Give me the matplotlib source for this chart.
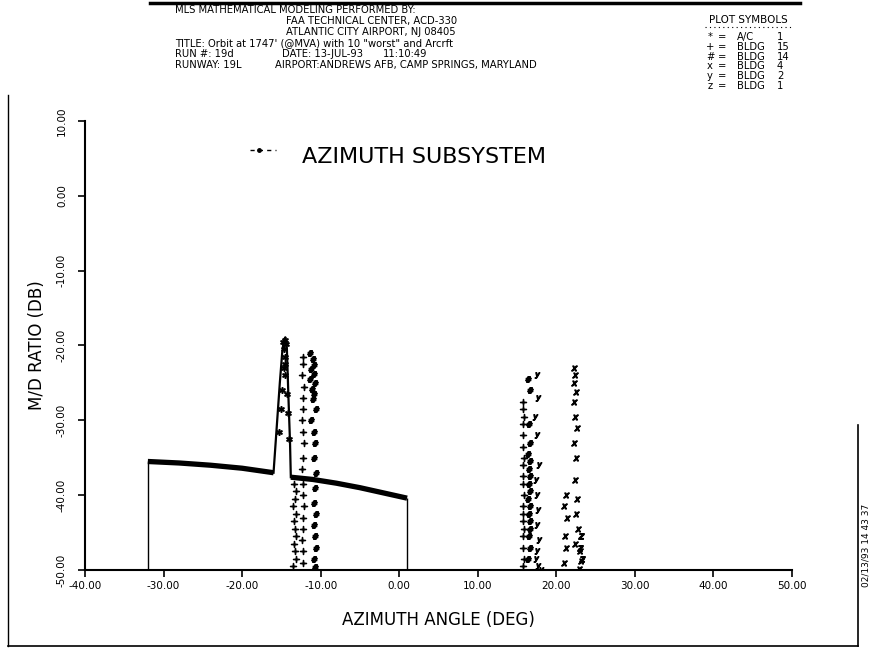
import numpy as np
import matplotlib
matplotlib.use('Agg')
import matplotlib.pyplot as plt
from matplotlib.lines import Line2D
from matplotlib.ticker import FormatStrFormatter

plt.rcParams['font.family'] = 'DejaVu Sans'
plt.rcParams['axes.unicode_minus'] = False

# A/C 1 track (thick line)
ac_left_x = [-32.0, -28.0, -24.0, -20.0, -16.0]
ac_left_y = [-35.5, -35.7, -36.0, -36.4, -37.0]
ac_spike_x = [-16.0, -15.6, -15.2, -14.9, -14.7, -14.5, -14.3, -14.1, -13.9, -13.8]
ac_spike_y = [-37.0, -31.0, -25.0, -21.0, -19.3, -18.9, -20.5, -27.0, -33.0, -37.6]
ac_right_x = [-13.8, -11.0, -8.0, -5.0, -2.0, 1.0]
ac_right_y = [-37.6, -37.9, -38.4, -39.0, -39.7, -40.4]
ac_edge_x = [-32.0, 1.0]
ac_edge_top = [-35.5, -40.4]
ac_peak_x = [-14.8, -14.7, -14.6, -14.5, -14.4, -14.6, -14.5, -14.7, -14.9, -15.1, -14.3, -14.2, -15.3, -14.0]
ac_peak_y = [-19.5, -20.5, -19.2, -21.5, -19.8, -22.5, -24.0, -23.0, -26.0, -28.5, -26.5, -29.0, -31.5, -32.5]

# BLDG 15 (+)
b15_x = [-12.3, -12.2, -12.4, -12.1, -12.3, -12.2, -12.4, -12.3, -12.1, -12.2, -12.4, -12.3,
         -12.2, -12.1, -12.3, -12.2, -12.4, -12.3, -12.2,
         -13.4, -13.2, -13.3, -13.5, -13.2, -13.4, -13.3, -13.1, -13.4, -13.3, -13.2, -13.5,
         15.8, 15.7, 15.9, 15.8, 15.7, 15.8, 15.9, 15.8, 15.7, 15.8, 15.9, 15.8, 15.7, 15.8,
         15.9, 15.8, 15.7, 15.9, 15.8]
b15_y = [-21.5, -22.5, -24.0, -25.5, -27.0, -28.5, -30.0, -31.5, -33.0, -35.0, -36.5, -38.5,
         -40.0, -41.5, -43.0, -44.5, -46.0, -47.5, -49.0,
         -38.5, -39.5, -40.5, -41.5, -42.5, -43.5, -44.5, -45.5, -46.5, -47.5, -48.5, -49.5,
         -27.5, -28.5, -29.5, -30.5, -32.0, -33.5, -35.0, -36.0, -37.5, -38.5, -40.0, -41.5,
         -42.5, -43.5, -44.5, -45.5, -47.0, -48.5, -49.5]

# BLDG 14 (#)
b14_x = [-11.4, -11.0, -10.8, -11.2, -10.9, -11.3, -10.7, -11.1, -10.8, -11.0, -10.6, -11.2,
         -10.9, -10.7, -10.8, -10.6, -10.7, -10.9, -10.6, -10.8, -10.7, -10.6, -10.8, -10.7,
         16.4, 16.7, 16.5, 16.6, 16.4, 16.7, 16.5, 16.6, 16.5, 16.7, 16.4, 16.6, 16.5, 16.7,
         16.6, 16.5, 16.7, 16.4]
b14_y = [-21.0, -21.8, -22.6, -23.2, -23.8, -24.5, -25.0, -25.8, -26.5, -27.2, -28.5, -30.0,
         -31.5, -33.0, -35.0, -37.0, -39.0, -41.0, -42.5, -44.0, -45.5, -47.0, -48.5, -49.6,
         -24.5, -26.0, -30.5, -33.0, -34.5, -35.5, -36.5, -37.5, -38.5, -39.5, -40.5, -41.5,
         -42.5, -43.5, -44.5, -45.5, -47.0, -48.5]

# BLDG 4 (x)
b4_x = [22.3, 22.4, 22.2, 22.5, 22.3, 22.4, 22.6, 22.3, 22.5, 22.4, 22.6, 22.5, 22.7, 22.4,
        21.2, 21.0, 21.3, 21.1, 21.2, 21.0, 23.0, 23.1, 22.9]
b4_y = [-23.0, -24.0, -25.0, -26.2, -27.5, -29.5, -31.0, -33.0, -35.0, -38.0, -40.5, -42.5,
        -44.5, -46.5, -40.0, -41.5, -43.0, -45.5, -47.0, -49.0, -47.5, -48.8, -49.8]

# BLDG 2 (y)
b2_x = [17.5, 17.7, 17.3, 17.6, 17.8, 17.4, 17.6, 17.7, 17.5, 17.8, 17.6, 17.4, 17.7, 18.0]
b2_y = [-24.0, -27.0, -29.5, -32.0, -36.0, -38.0, -40.0, -42.0, -44.0, -46.0, -47.5, -48.5,
        -49.5, -50.0]

# BLDG 1 (z)
b1_x = [23.2, 23.0, 23.3]
b1_y = [-45.5, -47.0, -48.5]

x_ticks = [-40, -30, -20, -10, 0, 10, 20, 30, 40, 50]
y_ticks = [-50, -40, -30, -20, -10, 0, 10]

# header text pieces: (x pixel, line index, text)
header_parts = [
    (175, 0, "MLS MATHEMATICAL MODELING PERFORMED BY:"),
    (286, 1, "FAA TECHNICAL CENTER, ACD-330"),
    (286, 2, "ATLANTIC CITY AIRPORT, NJ 08405"),
    (175, 3, "TITLE: Orbit at 1747' (@MVA) with 10 \"worst\" and Arcrft"),
    (175, 4, "RUN #: 19d"),
    (282, 4, "DATE: 13-JUL-93"),
    (383, 4, "11:10:49"),
    (175, 5, "RUNWAY: 19L"),
    (275, 5, "AIRPORT:ANDREWS AFB, CAMP SPRINGS, MARYLAND"),
]
legend_syms = ["*", "+", "#", "x", "y", "z"]
legend_names = ["A/C", "BLDG", "BLDG", "BLDG", "BLDG", "BLDG"]
legend_nums = ["1", "15", "14", "4", "2", "1"]

fig = plt.figure(figsize=(8.76, 6.52), dpi=100)
ax = fig.add_axes([85 / 876, 1 - 570 / 652, (792 - 85) / 876, (570 - 121) / 652])

# A/C track
ax.plot(ac_left_x, ac_left_y, color='black', lw=3.8, solid_capstyle='butt')
ax.plot(ac_right_x, ac_right_y, color='black', lw=3.8, solid_capstyle='butt')
ax.plot(ac_spike_x, ac_spike_y, color='black', lw=1.6)
ax.vlines(ac_edge_x, -50, ac_edge_top, color='black', lw=1.0)
ax.plot(ac_peak_x, ac_peak_y, ls='none', marker='$*$', ms=4, color='black')

ms = 4
ax.plot(b15_x, b15_y, ls='none', marker='$+$', ms=ms, color='black')
ax.plot(b14_x, b14_y, ls='none', marker=r'$\#$', ms=ms, color='black')
ax.plot(b4_x, b4_y, ls='none', marker='$x$', ms=ms, color='black')
ax.plot(b2_x, b2_y, ls='none', marker='$y$', ms=ms, color='black')
ax.plot(b1_x, b1_y, ls='none', marker='$z$', ms=ms, color='black')

ax.set_xlim(-40, 50)
ax.set_ylim(-50, 10)
ax.set_xticks(x_ticks)
ax.set_yticks(y_ticks)
ax.xaxis.set_major_formatter(FormatStrFormatter('%.2f'))
ax.yaxis.set_major_formatter(FormatStrFormatter('%.2f'))
for s in ['top', 'right']:
    ax.spines[s].set_visible(False)
for s in ['left', 'bottom']:
    ax.spines[s].set_linewidth(1.5)
ax.tick_params(axis='both', direction='out', length=5, width=1.2, labelsize=7.5)
ax.tick_params(axis='x', pad=3)
ax.tick_params(axis='y', pad=8)
plt.setp(ax.get_yticklabels(), rotation=90, va='center')

ax.set_xlabel("AZIMUTH ANGLE (DEG)", fontsize=12, labelpad=14)
ax.set_ylabel("M/D RATIO (DB)", fontsize=12, labelpad=8)

# title with marker
fig.text(424 / 876, 1 - 157 / 652, "AZIMUTH SUBSYSTEM", fontsize=16,
         ha='center', va='center')
fig.add_artist(Line2D([250 / 876, 276 / 876], [1 - 150 / 652, 1 - 150 / 652],
                      color='black', lw=1.0, ls=(0, (3, 3))))
fig.add_artist(Line2D([259 / 876], [1 - 150 / 652], marker='o', ms=2.5, color='black'))

# header block
for xp, row, txt in header_parts:
    fig.text(xp / 876, 1 - (10 + row * 11) / 652, txt, fontsize=7.2,
             ha='left', va='center')

# plot symbols key
fig.text(748 / 876, 1 - 20 / 652, "PLOT SYMBOLS", fontsize=7.5, ha='center', va='center')
fig.add_artist(Line2D([705 / 876, 792 / 876], [1 - 27 / 652, 1 - 27 / 652],
                      color='black', lw=0.8, ls=(0, (1, 3))))
for i, (sym, name, num) in enumerate(zip(legend_syms, legend_names, legend_nums)):
    yy = 1 - (37 + i * 9.8) / 652
    fig.text(710 / 876, yy, sym, fontsize=7.2, ha='center', va='center')
    fig.text(722 / 876, yy, "=", fontsize=7.2, ha='center', va='center')
    fig.text(737 / 876, yy, name, fontsize=7.2, ha='left', va='center')
    fig.text(777 / 876, yy, num, fontsize=7.2, ha='left', va='center')

# date stamp
fig.text(866 / 876, 1 - 545 / 652, "02/13/93 14 43 37", fontsize=6.5, rotation=90,
         ha='center', va='center')

# page frame
fig.add_artist(Line2D([150 / 876, 800 / 876], [1 - 3 / 652, 1 - 3 / 652], color='black', lw=2.5))
fig.add_artist(Line2D([8 / 876, 8 / 876], [1 - 95 / 652, 1 - 646 / 652], color='black', lw=1.0))
fig.add_artist(Line2D([8 / 876, 858 / 876], [1 - 646 / 652, 1 - 646 / 652], color='black', lw=1.2))
fig.add_artist(Line2D([858 / 876, 858 / 876], [1 - 425 / 652, 1 - 646 / 652], color='black', lw=1.2))

fig.savefig('out.png', dpi=100)
